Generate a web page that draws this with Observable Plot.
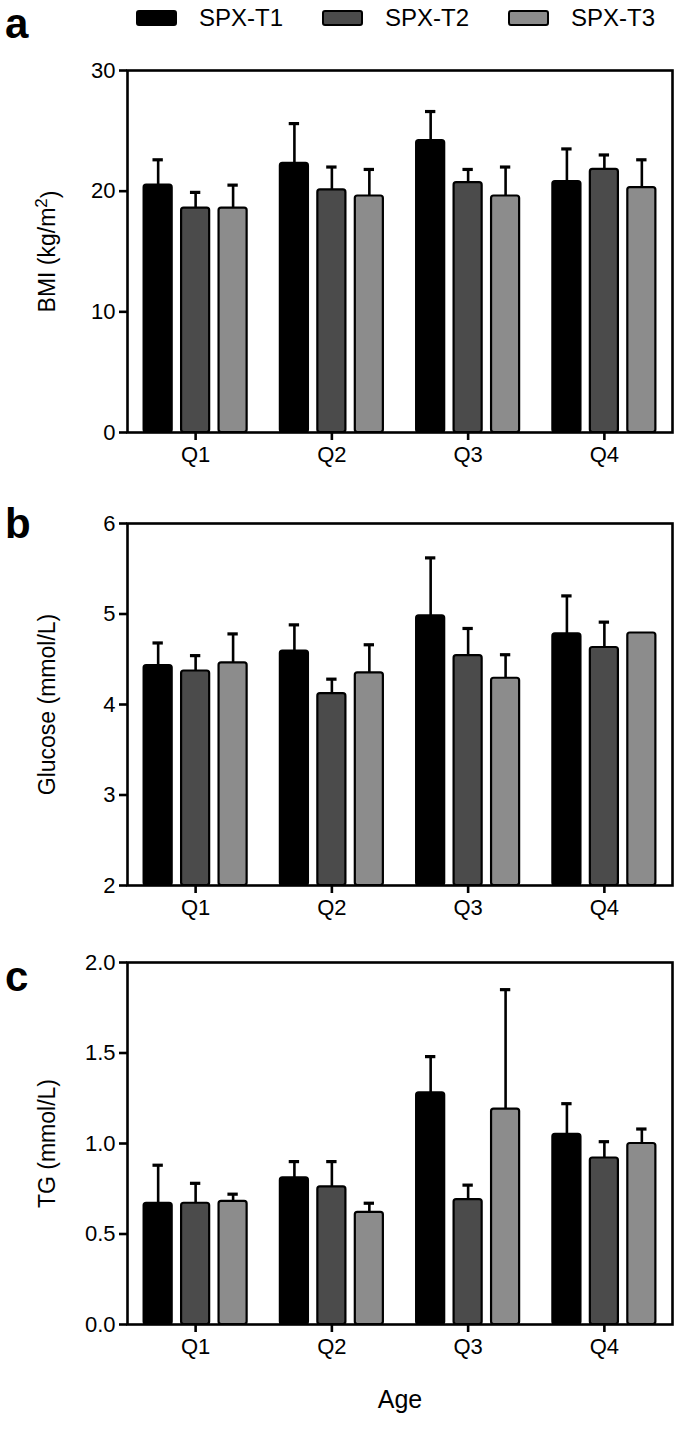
<!DOCTYPE html>
<html>
<head>
<meta charset="utf-8">
<script src="https://cdn.jsdelivr.net/npm/d3@7"></script>
<script src="https://cdn.jsdelivr.net/npm/@observablehq/plot@0.6"></script>
<style>
  html, body { margin: 0; padding: 0; background: #fff; }
  #root { position: relative; width: 677px; height: 1446px; font-family: "Liberation Sans", Arial, Helvetica, sans-serif; color: #000; overflow: hidden; }
  .panel { position: absolute; left: 0; }
  .letter { position: absolute; font-weight: bold; font-size: 42px; line-height: 42px; height: 42px; }
  #legend { position: absolute; left: 136px; top: 4px; display: flex; align-items: center; gap: 39px; font-size: 24px; line-height: 28px; }
  .item { display: flex; align-items: center; gap: 22px; }
  .sw { width: 37px; height: 12px; border: 2px solid #000; border-radius: 3px; }
</style>
</head>
<body>
<div id="root">
  <div id="legend"></div>
  <div class="letter" style="left:5px; top:3px;">a</div>
  <div class="letter" style="left:5px; top:503px;">b</div>
  <div class="letter" style="left:5px; top:956px;">c</div>
</div>
<script>
// ---- data ----
const quarters = ["Q1", "Q2", "Q3", "Q4"];
const series = ["SPX-T1", "SPX-T2", "SPX-T3"];
const colors = ["#000000", "#4b4b4b", "#8c8c8c"];

// BMI (kg/m2)
const bmiT1 = [20.5, 22.3, 24.2, 20.8];
const bmiT2 = [18.6, 20.1, 20.7, 21.8];
const bmiT3 = [18.6, 19.6, 19.6, 20.3];
const bmiT1Err = [2.1, 3.3, 2.4, 2.7];
const bmiT2Err = [1.3, 1.9, 1.1, 1.2];
const bmiT3Err = [1.9, 2.2, 2.4, 2.3];

// Glucose (mmol/L)
const gluT1 = [4.43, 4.59, 4.98, 4.78];
const gluT2 = [4.37, 4.12, 4.54, 4.63];
const gluT3 = [4.46, 4.35, 4.29, 4.79];
const gluT1Err = [0.25, 0.29, 0.64, 0.42];
const gluT2Err = [0.17, 0.16, 0.30, 0.28];
const gluT3Err = [0.32, 0.31, 0.26, 0];

// TG (mmol/L)
const tgT1 = [0.67, 0.81, 1.28, 1.05];
const tgT2 = [0.67, 0.76, 0.69, 0.92];
const tgT3 = [0.68, 0.62, 1.19, 1.00];
const tgT1Err = [0.21, 0.09, 0.20, 0.17];
const tgT2Err = [0.11, 0.14, 0.08, 0.09];
const tgT3Err = [0.04, 0.05, 0.66, 0.08];

const bmiTicks = [0, 10, 20, 30];
const gluTicks = [2, 3, 4, 5, 6];
const tgTicks = [0, 0.5, 1.0, 1.5, 2.0];

// ---- legend ----
const legend = document.getElementById("legend");
series.forEach((s, i) => {
  const it = document.createElement("div");
  it.className = "item";
  const sw = document.createElement("div");
  sw.className = "sw";
  sw.style.background = colors[i];
  const t = document.createElement("span");
  t.textContent = s;
  it.appendChild(sw); it.appendChild(t);
  legend.appendChild(it);
});

// ---- panels ----
const OFF = 0.275, HW = 0.103, CAP = 0.038;
const FONT = '"Liberation Sans", Arial, Helvetica, sans-serif';

function makePanel({means, errs, domain, ticks, fmt, label, top, marginTop, marginBottom, xTitle}) {
  const rows = [];
  quarters.forEach((q, qi) => {
    series.forEach((s, si) => {
      rows.push({q, qi, series: s, si, mean: means[si][qi], err: errs[si][qi], cx: qi + (si - 1) * OFF});
    });
  });
  const withErr = rows.filter(d => d.err > 0);
  const marks = [
    Plot.ruleX(withErr, {x: "cx", y1: "mean", y2: d => d.mean + d.err, stroke: "#000", strokeWidth: 2.6}),
    Plot.ruleY(withErr, {y: d => d.mean + d.err, x1: d => d.cx - CAP, x2: d => d.cx + CAP, stroke: "#000", strokeWidth: 3.2}),
    Plot.rect(rows, {x1: d => d.cx - HW, x2: d => d.cx + HW, y1: domain[0], y2: "mean", fill: "series", stroke: "#000", strokeWidth: 2.2, rx: 2.5}),
    Plot.frame({stroke: "#000", strokeWidth: 2.6}),
    Plot.axisX({ticks: [0, 1, 2, 3], tickFormat: i => quarters[i], tickSize: 8, tickPadding: 6, strokeWidth: 2.6, label: null, fontSize: 22}),
    Plot.axisY({ticks, tickFormat: fmt, tickSize: 8, tickPadding: 4, strokeWidth: 2.6, label: null, fontSize: 22}),
    Plot.text([label], {text: d => d, frameAnchor: "left", textAnchor: "middle", lineAnchor: "middle", dx: -80, rotate: -90, fontSize: 23})
  ];
  if (xTitle) marks.push(Plot.text([xTitle], {text: d => d, frameAnchor: "bottom", textAnchor: "middle", lineAnchor: "middle", dy: 75, fontSize: 25}));
  const plotH = 362;
  const svg = Plot.plot({
    width: 677,
    height: marginTop + plotH + marginBottom,
    marginLeft: 127,
    marginRight: 5,
    marginTop,
    marginBottom,
    style: {fontFamily: FONT, fontSize: "22px", color: "#000", background: "transparent", overflow: "visible"},
    x: {domain: [-0.5, 3.5]},
    y: {domain},
    color: {domain: series, range: colors},
    marks
  });
  svg.classList.add("panel");
  svg.style.top = top + "px";
  document.getElementById("root").appendChild(svg);
  return svg;
}

const svgA = makePanel({
  means: [bmiT1, bmiT2, bmiT3], errs: [bmiT1Err, bmiT2Err, bmiT3Err],
  domain: [0, 30], ticks: bmiTicks, fmt: d3.format("d"), label: "BMI (kg/m2)",
  top: 40, marginTop: 30, marginBottom: 50
});
makePanel({
  means: [gluT1, gluT2, gluT3], errs: [gluT1Err, gluT2Err, gluT3Err],
  domain: [2, 6], ticks: gluTicks, fmt: d3.format("d"), label: "Glucose (mmol/L)",
  top: 490, marginTop: 33, marginBottom: 50
});
makePanel({
  means: [tgT1, tgT2, tgT3], errs: [tgT1Err, tgT2Err, tgT3Err],
  domain: [0, 2], ticks: tgTicks, fmt: d3.format(".1f"), label: "TG (mmol/L)",
  top: 935, marginTop: 27, marginBottom: 115, xTitle: "Age"
});

// superscript for kg/m2
d3.select(svgA).selectAll("text").filter(function() { return this.textContent === "BMI (kg/m2)"; })
  .each(function() {
    const t = d3.select(this);
    t.text("BMI (kg/m");
    t.append("tspan").attr("dy", "-0.45em").attr("font-size", "17px").text("2");
    t.append("tspan").attr("dy", "0.45em").text(")");
  });
</script>
</body>
</html>
